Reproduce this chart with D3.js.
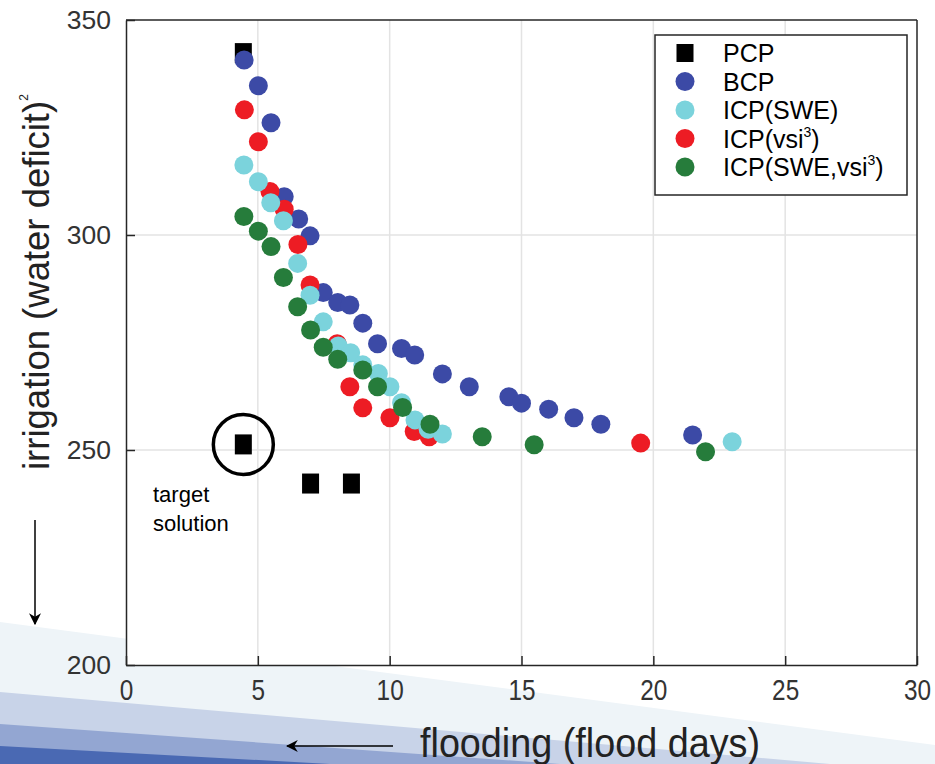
<!DOCTYPE html>
<html>
<head>
<meta charset="utf-8">
<script src="https://cdn.jsdelivr.net/npm/d3@7"></script>
<style>
  body { margin: 0; background: #fff; }
  svg { display: block; font-family: "Liberation Sans", Arial, sans-serif; }
</style>
</head>
<body>
<div id="chart"></div>
<script>
// series values
const pcpX = [4.45, 4.45, 7.0, 8.55];
const pcpY = [342.3, 251.3, 242.2, 242.2];

const bcpX = [4.48, 5.02, 5.5, 6.0, 6.55, 6.98, 7.48, 8.03, 8.49, 8.98, 9.54, 10.45, 10.95, 12.0, 13.02, 14.52, 15.0, 16.03, 16.99, 18.01, 21.49];
const bcpY = [340.7, 334.7, 326.1, 308.9, 303.7, 299.8, 286.6, 284.3, 283.7, 279.5, 274.7, 273.6, 272.1, 267.7, 264.7, 262.4, 260.9, 259.5, 257.5, 256.0, 253.5];

const sweX = [4.47, 5.02, 5.49, 5.97, 6.51, 6.98, 7.48, 8.05, 8.52, 8.98, 9.57, 10.01, 10.45, 10.96, 11.46, 12.0, 22.99];
const sweY = [316.3, 312.4, 307.5, 303.3, 293.4, 286.0, 279.8, 274.2, 272.6, 269.8, 267.8, 264.7, 261.0, 257.0, 254.8, 253.7, 251.9];

const vsiX = [4.49, 5.02, 5.46, 6.0, 6.52, 6.98, 8.01, 8.49, 8.98, 10.01, 10.93, 11.5, 19.52];
const vsiY = [329.1, 321.7, 310.1, 306.0, 297.8, 288.4, 274.7, 264.7, 259.8, 257.5, 254.3, 253.1, 251.6];

const bothX = [4.47, 5.02, 5.5, 5.97, 6.51, 7.0, 7.48, 8.03, 8.98, 9.54, 10.49, 11.53, 13.51, 15.48, 21.98];
const bothY = [304.3, 300.9, 297.3, 290.1, 283.3, 277.9, 273.9, 271.1, 268.6, 264.7, 259.9, 256.0, 253.1, 251.2, 249.6];

const xTicks = [0, 5, 10, 15, 20, 25, 30];
const yTicks = [200, 250, 300, 350];

const legendNames = [["PCP"], ["BCP"], ["ICP(SWE)"], ["ICP(vsi", "3", ")"], ["ICP(SWE,vsi", "3", ")"]];
const colors = { pcp: "#000000", bcp: "#3c4aa6", swe: "#7bd3dc", vsi: "#ed1c24", both: "#267c3b" };

const W = 935, H = 764;
const margin = {top: 20, right: 18, bottom: 99, left: 126};

const svg = d3.select("#chart").append("svg")
    .attr("width", W)
    .attr("height", H);

// slide background bands (decoration)
const bands = [
    {fill: "#eef4f8", pts: [[0, 622], [935, 745], [935, 764], [0, 764]]},
    {fill: "#c8d3e8", pts: [[0, 692], [830, 764], [0, 764]]},
    {fill: "#93a6d2", pts: [[0, 724], [560, 764], [0, 764]]},
    {fill: "#4a69b3", pts: [[0, 746], [330, 764], [0, 764]]}
];
svg.selectAll(".band").data(bands).enter()
    .append("polygon")
    .attr("class", "band")
    .attr("points", d => d.pts.map(p => p.join(",")).join(" "))
    .attr("fill", d => d.fill);

const x = d3.scaleLinear().domain([0, 30]).range([margin.left, W - margin.right]);
const y = d3.scaleLinear().domain([200, 350]).range([H - margin.bottom, margin.top]);

// plot background
svg.append("rect")
    .attr("x", x(0)).attr("y", y(350))
    .attr("width", x(30) - x(0)).attr("height", y(200) - y(350))
    .attr("fill", "#fff");

// grid
svg.append("g").selectAll("line").data(xTicks.slice(1, -1)).enter()
    .append("line")
    .attr("x1", d => x(d)).attr("x2", d => x(d))
    .attr("y1", y(200)).attr("y2", y(350))
    .attr("stroke", "#e3e3e3").attr("stroke-width", 1.5);
svg.append("g").selectAll("line").data(yTicks.slice(1, -1)).enter()
    .append("line")
    .attr("y1", d => y(d)).attr("y2", d => y(d))
    .attr("x1", x(0)).attr("x2", x(30))
    .attr("stroke", "#e3e3e3").attr("stroke-width", 1.5);

// axes
const xAxis = d3.axisBottom(x).tickValues(xTicks).tickSizeInner(-9).tickSizeOuter(0).tickPadding(14);
const yAxis = d3.axisLeft(y).tickValues(yTicks).tickSizeInner(-9).tickSizeOuter(0).tickPadding(15);

const gx = svg.append("g").attr("transform", `translate(0,${y(200)})`).call(xAxis);
const gy = svg.append("g").attr("transform", `translate(${x(0)},0)`).call(yAxis);

[gx, gy].forEach(g => {
    g.select(".domain").attr("stroke", "#262626").attr("stroke-width", 1.5);
    g.selectAll(".tick line").attr("stroke", "#262626").attr("stroke-width", 1.5);
    g.selectAll(".tick text").attr("fill", "#333").attr("font-family", "Liberation Sans, Arial, sans-serif");
});
gx.selectAll(".tick text").attr("font-size", 29).attr("transform", "scale(0.84,1)");
gy.selectAll(".tick text").attr("font-size", 26.5);

// box top/right
svg.append("line").attr("x1", x(0)).attr("x2", x(30)).attr("y1", y(350)).attr("y2", y(350))
    .attr("stroke", "#262626").attr("stroke-width", 1.5);
svg.append("line").attr("x1", x(30)).attr("x2", x(30)).attr("y1", y(350)).attr("y2", y(200))
    .attr("stroke", "#262626").attr("stroke-width", 1.5);

// target circle
svg.append("circle")
    .attr("cx", x(pcpX[1])).attr("cy", y(pcpY[1]))
    .attr("r", 30)
    .attr("fill", "none")
    .attr("stroke", "#000")
    .attr("stroke-width", 3.5);

// markers
const sqW = 17, sqH = 20;
svg.append("g").selectAll("rect").data(d3.zip(pcpX, pcpY)).enter()
    .append("rect")
    .attr("x", d => x(d[0]) - sqW / 2)
    .attr("y", d => y(d[1]) - sqH / 2)
    .attr("width", sqW).attr("height", sqH)
    .attr("fill", colors.pcp);

const r = 9.5;
function dots(xs, ys, col) {
    svg.append("g").selectAll("circle").data(d3.zip(xs, ys)).enter()
        .append("circle")
        .attr("cx", d => x(d[0]))
        .attr("cy", d => y(d[1]))
        .attr("r", r)
        .attr("fill", col);
}
dots(bcpX, bcpY, colors.bcp);
dots(vsiX, vsiY, colors.vsi);
dots(sweX, sweY, colors.swe);
dots(bothX, bothY, colors.both);

// legend
const lg = svg.append("g");
lg.append("rect")
    .attr("x", 655).attr("y", 35)
    .attr("width", 252).attr("height", 160)
    .attr("fill", "#fff")
    .attr("stroke", "#262626").attr("stroke-width", 1.5);

const legendCols = [colors.pcp, colors.bcp, colors.swe, colors.vsi, colors.both];
legendNames.forEach((parts, i) => {
    const cy = 53 + i * 28.5;
    if (i === 0) {
        lg.append("rect").attr("x", 685 - 8.5).attr("y", cy - 9).attr("width", 17).attr("height", 18).attr("fill", legendCols[i]);
    } else {
        lg.append("circle").attr("cx", 685).attr("cy", cy).attr("r", r).attr("fill", legendCols[i]);
    }
    const t = lg.append("text")
        .attr("x", 723).attr("y", cy + 9)
        .attr("font-size", 25)
        .attr("fill", "#000");
    t.append("tspan").text(parts[0]);
    if (parts.length > 1) {
        t.append("tspan").attr("font-size", 14).attr("dy", -11).text(parts[1]);
        t.append("tspan").attr("dy", 11).text(parts[2]);
    }
});

// annotation
const ann = svg.append("text").attr("font-size", 22).attr("fill", "#000");
ann.append("tspan").attr("x", 153).attr("y", 502).text("target");
ann.append("tspan").attr("x", 153).attr("y", 531).text("solution");

// axis titles
const yl = svg.append("text")
    .attr("transform", "translate(49,470) rotate(-90)")
    .attr("font-size", 36.5)
    .attr("fill", "#222");
yl.append("tspan").text("irrigation (water deficit)");
yl.append("tspan").attr("font-size", 12).attr("dy", -21).text("2");

svg.append("text")
    .attr("x", 420).attr("y", 757)
    .attr("font-size", 40)
    .attr("textLength", 340)
    .attr("lengthAdjust", "spacingAndGlyphs")
    .attr("fill", "#222")
    .text("flooding (flood days)");

// arrows
svg.append("defs").append("marker")
    .attr("id", "ah")
    .attr("viewBox", "0 0 10 10")
    .attr("refX", 9).attr("refY", 5)
    .attr("markerWidth", 8).attr("markerHeight", 8)
    .attr("orient", "auto")
    .append("path").attr("d", "M0,0 L10,5 L0,10 L3,5 Z").attr("fill", "#000");

svg.append("line").attr("x1", 35).attr("y1", 520).attr("x2", 35).attr("y2", 624)
    .attr("stroke", "#000").attr("stroke-width", 1.5).attr("marker-end", "url(#ah)");
svg.append("line").attr("x1", 393).attr("y1", 746).attr("x2", 287).attr("y2", 746)
    .attr("stroke", "#000").attr("stroke-width", 1.5).attr("marker-end", "url(#ah)");
</script>
</body>
</html>
